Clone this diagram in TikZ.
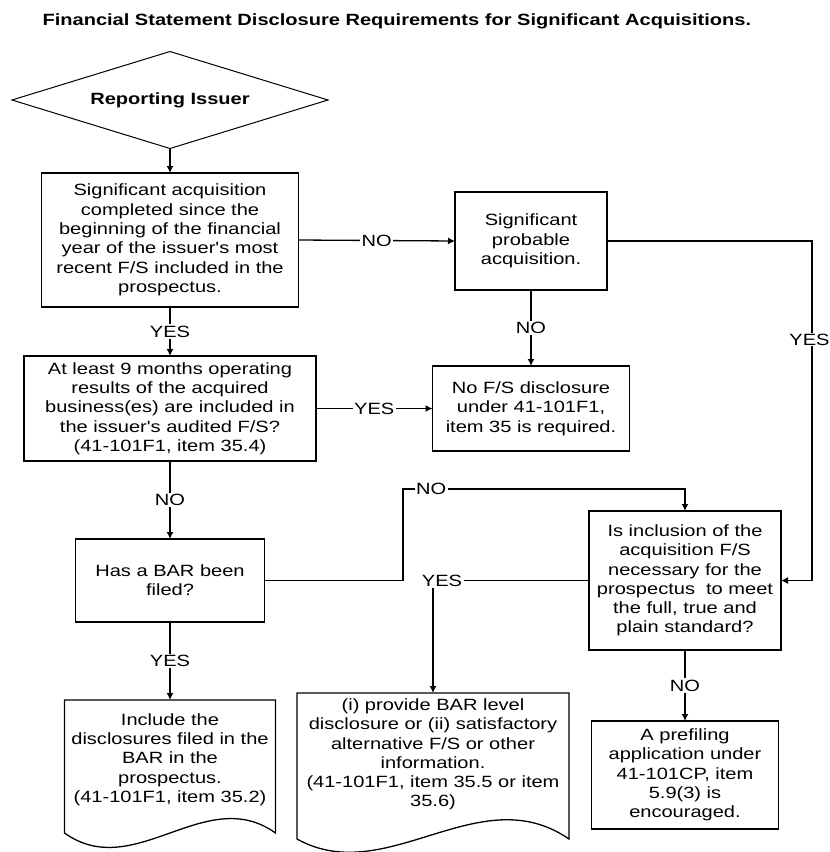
\documentclass[tikz,border=0pt]{standalone}
\usepackage{fontspec}
\setmainfont{Liberation Sans}[FakeStretch=1.23, Ligatures=TeXOff]
\usepackage{tikz}
\usetikzlibrary{
  positioning,
  shapes.geometric,
  arrows.meta
}
\tikzset{block/.style={
  draw, line width=1.3pt,
  align=center,
  inner sep=0pt, outer sep=0pt
}}
\tikzset{decision/.style={
  diamond, aspect=3.26,
  draw, line width=1pt,
  minimum width=316pt, minimum height=97pt,
  inner sep=0pt, outer sep=0pt,
  font=\fontsize{16.3}{19.3}\selectfont\bfseries
}}
\tikzset{docnode/.style={
  align=center,
  inner sep=0pt, outer sep=0pt
}}
\tikzset{answer/.style={
  fill=white, inner sep=1.5pt
}}
\tikzset{flow/.style={
  line width=1.3pt,
  -{Latex[length=7pt,width=7pt]}
}}

\begin{document}
\begin{tikzpicture}
  [
    x=1pt, y=-1pt,
    font=\fontsize{16.3}{19.3}\selectfont
  ]
  \useasboundingbox (0,0) rectangle (830,852);
  \node [anchor=west, font=\fontsize{16.3}{19.3}\selectfont\bfseries] (title) at (39,21)
    {Financial Statement Disclosure Requirements for Significant Acquisitions.};

  \node [decision] (issuer) at (170,100) {Reporting Issuer};
  \node [block, minimum width=257pt, minimum height=134pt, below=24.5pt of issuer] (completed)
    {Significant acquisition\\completed since the\\beginning of the financial\\year of the issuer's most\\recent F/S included in the\\prospectus.};
  \node [block, minimum width=292pt, minimum height=105pt, below=49pt of completed] (ninemonths)
    {At least 9 months operating\\results of the acquired\\business(es) are included in\\the issuer's audited F/S?\\(41-101F1, item 35.4)};
  \node [block, minimum width=189pt, minimum height=83pt, below=78pt of ninemonths] (barfiled)
    {Has a BAR been\\filed?};
  \node [docnode, minimum width=211pt, minimum height=119pt, below=78pt of barfiled] (includebar)
    {Include the\\disclosures filed in the\\BAR in the\\prospectus.\\(41-101F1, item 35.2)};

  \node [block, minimum width=152pt, minimum height=98pt] (probable) at (531,241)
    {Significant\\probable\\acquisition.};
  \node [block, minimum width=197pt, minimum height=85pt, below=76pt of probable] (nodisclosure)
    {No F/S disclosure\\under 41-101F1,\\item 35 is required.};
  \node [block, minimum width=192pt, minimum height=139pt] (necessary) at (685,580.5)
    {Is inclusion of the\\acquisition F/S\\necessary for the\\prospectus\ \ to meet\\the full, true and\\plain standard?};
  \node [block, minimum width=187pt, minimum height=108pt, below=71pt of necessary] (prefiling)
    {A prefiling\\application under\\41-101CP, item\\5.9(3) is\\encouraged.};
  \node [docnode, minimum width=272pt, minimum height=123pt] (alternative) at (433,754.5)
    {(i) provide BAR level\\disclosure or (ii) satisfactory\\alternative F/S or other\\information.\\(41-101F1, item 35.5 or item\\35.6)};

  \coordinate (barturn) at (403,489);
  \coordinate (yesturn) at (812,241);

  \draw [line width=1.3pt] (includebar.north west) -- (includebar.north east)
    -- ([yshift=-14pt]includebar.south east)
    .. controls ([xshift=-70pt,yshift=36pt]includebar.south east) and ([xshift=70pt,yshift=-64pt]includebar.south west)
    .. ([yshift=-14pt]includebar.south west) -- cycle;
  \draw [line width=1.3pt] (alternative.north west) -- (alternative.north east)
    -- ([yshift=-23pt]alternative.south east)
    .. controls ([xshift=-90pt,yshift=39pt]alternative.south east) and ([xshift=90pt,yshift=-73pt]alternative.south west)
    .. ([yshift=-23pt]alternative.south west) -- cycle;

  \draw [flow] (issuer.south) -- (completed.north);
  \draw [flow] (completed.east) -- node [answer] {NO} (probable.west);
  \draw [flow] (completed.south) -- node [answer] {YES} (ninemonths.north);
  \draw [flow] (probable.south) -- node [answer] {NO} (nodisclosure.north);
  \draw [flow] (ninemonths.east) -- node [answer] {YES} (nodisclosure.west);
  \draw [flow] (ninemonths.south) -- node [answer] {NO} (barfiled.north);
  \draw [flow] (barfiled.south) -- node [answer] {YES} (includebar.north);
  \draw [flow] (barfiled.east) -| (barturn) -- node [answer, pos=0.1] {NO} (barturn -| necessary.north) -- (necessary.north);
  \draw [flow] (probable.east) -- (yesturn) -- node [answer, pos=0.29, xshift=-2.5pt, inner sep=0.5pt] {YES} (yesturn |- necessary.east) -- (necessary.east);
  \draw [flow] (necessary.west) -| node [answer, pos=0.5, xshift=9pt] {YES} (alternative.north);
  \draw [flow] (necessary.south) -- node [answer] {NO} (prefiling.north);
\end{tikzpicture}
\end{document}
